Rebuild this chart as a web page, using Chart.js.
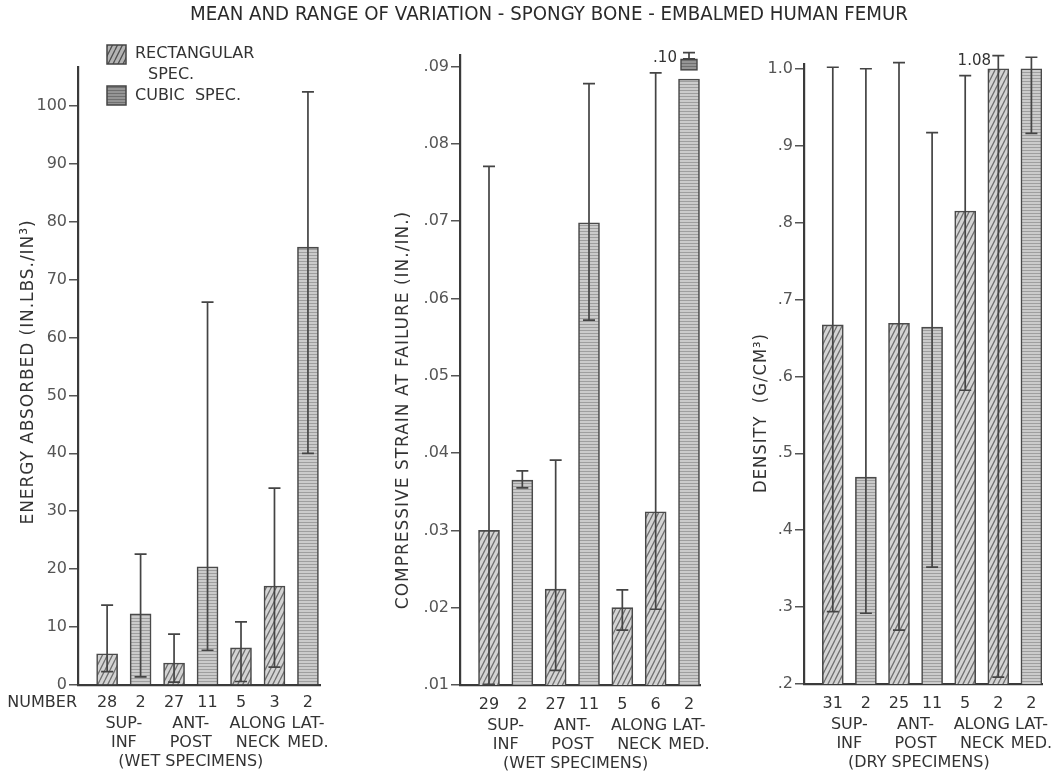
<!DOCTYPE html>
<html>
<head>
<meta charset="utf-8">
<script src="https://cdn.jsdelivr.net/npm/chart.js@4/dist/chart.umd.min.js"></script>
<style>
  html, body { margin: 0; padding: 0; background: #fff; }
  #wrap { position: relative; width: 1059px; height: 772px; }
  #wrap canvas { position: absolute; left: 0; top: 0; }
</style>
</head>
<body>
<div id="wrap">
  <canvas id="energyChart" width="1059" height="772"></canvas>
  <canvas id="strainChart" width="1059" height="772"></canvas>
  <canvas id="densityChart" width="1059" height="772"></canvas>
</div>
<script>
// shared categories
var groupNames = [['SUP-', 'INF'], ['ANT-', 'POST'], ['ALONG', 'NECK'], ['LAT-', 'MED.']];
var groupBars = [[0, 1], [2, 3], [4, 5], [6]];
var specType = ['rect', 'cubic', 'rect', 'cubic', 'rect', 'rect', 'cubic'];

// energy absorbed (in.lbs./in3), wet specimens
var energyCounts = ['28', '2', '27', '11', '5', '3', '2'];
var energyMean = [5.4, 12.3, 3.8, 20.4, 6.4, 17.1, 75.6];
var energyLow = [2.3, 1.4, 0.5, 6.0, 0.6, 3.1, 40.0];
var energyHigh = [13.8, 22.6, 8.8, 66.1, 10.9, 34.0, 102.4];

// compressive strain at failure (in./in.), wet specimens
var strainCounts = ['29', '2', '27', '11', '5', '6', '2'];
var strainMean = [0.0300, 0.0365, 0.0224, 0.0698, 0.0200, 0.0324, 0.0884];
var strainLow = [0.0101, 0.0355, 0.0119, 0.0572, 0.0171, 0.0198, 0.0910];
var strainHigh = [0.0771, 0.0377, 0.0391, 0.0878, 0.0223, 0.0892, 0.0918];
var strainBreak = [null, null, null, null, null, null, [0.0895, 0.0910]];
var strainNotes = [null, null, null, null, null, null, '.10'];

// density (g/cm3), dry specimens
var densityCounts = ['31', '2', '25', '11', '5', '2', '2'];
var densityMean = [0.667, 0.469, 0.669, 0.664, 0.815, 1.0, 1.0];
var densityLow = [0.294, 0.292, 0.270, 0.352, 0.582, 0.209, 0.916];
var densityHigh = [1.002, 1.0, 1.008, 0.917, 0.991, 1.017, 1.015];
var densityNotes = [null, null, null, null, null, '1.08', null];

var FONT = "'DejaVu Sans', 'Liberation Sans', sans-serif";
Chart.defaults.font.family = FONT;

function hatchPattern(bg, line) {
    var c = document.createElement('canvas');
    c.width = 5; c.height = 10;
    var g = c.getContext('2d');
    g.fillStyle = bg;
    g.fillRect(0, 0, 5, 10);
    g.strokeStyle = line;
    g.lineWidth = 1.3;
    g.beginPath();
    g.moveTo(0, 10); g.lineTo(5, 0);
    g.moveTo(-5, 10); g.lineTo(0, 0);
    g.moveTo(5, 10); g.lineTo(10, 0);
    g.stroke();
    return g.createPattern(c, 'repeat');
}

function linePattern(bg, line) {
    var c = document.createElement('canvas');
    c.width = 4; c.height = 3;
    var g = c.getContext('2d');
    g.fillStyle = bg;
    g.fillRect(0, 0, 4, 3);
    g.fillStyle = line;
    g.fillRect(0, 0, 4, 1);
    return g.createPattern(c, 'repeat');
}

var rectFill = hatchPattern('#d4d4d4', '#707070');
var cubicFill = linePattern('#cbcbcb', '#9e9e9e');
var rectSwatch = hatchPattern('#b4b4b4', '#505050');
var cubicSwatch = linePattern('#959595', '#707070');

function fills() {
    return specType.map(t => t === 'rect' ? rectFill : cubicFill);
}

// error bars drawn through the chart's own scales
var errorBars = {
    id: 'errorBars',
    afterDatasetsDraw: function (chart) {
        var o = chart.options.plugins.errorBars;
        var xs = chart.scales.x, ys = chart.scales.y, ctx = chart.ctx;
        ctx.save();
        ctx.strokeStyle = '#444';
        ctx.lineWidth = 1.7;
        o.low.forEach(function (lo, i) {
            var x = xs.getPixelForValue(i);
            var y1 = ys.getPixelForValue(lo), y2 = ys.getPixelForValue(o.high[i]);
            ctx.beginPath();
            ctx.moveTo(x, y1); ctx.lineTo(x, y2);
            ctx.moveTo(x - 6, y2); ctx.lineTo(x + 6, y2);
            ctx.moveTo(x - 6, y1); ctx.lineTo(x + 6, y1);
            ctx.stroke();
        });
        ctx.restore();
    }
};

var panelText = {
    id: 'panelText',
    afterDraw: function (chart) {
        var o = chart.options.plugins.panelText;
        var xs = chart.scales.x, ys = chart.scales.y, ctx = chart.ctx;
        ctx.save();
        ctx.fillStyle = '#333';
        ctx.textBaseline = 'middle';
        ctx.textAlign = 'center';
        ctx.font = '16px ' + FONT;
        o.counts.forEach(function (n, i) {
            ctx.fillText(n, xs.getPixelForValue(i), o.rowY);
        });
        groupNames.forEach(function (lines, g) {
            var bars = groupBars[g];
            var cx = bars.reduce((a, i) => a + xs.getPixelForValue(i), 0) / bars.length;
            lines.forEach(function (t, k) {
                ctx.fillText(t, cx, o.rowY + 21 + k * 19);
            });
        });
        ctx.fillText(o.condition, xs.getPixelForValue(o.conditionAt), o.rowY + 59);

        if (o.notes) {
            ctx.font = '15px ' + FONT;
            o.notes.forEach(function (t, i) {
                if (!t) return;
                ctx.fillText(t, xs.getPixelForValue(i) - 24, ys.getPixelForValue(o.noteAt[i]) + 5);
            });
        }

        ctx.font = o.titleSize + 'px ' + FONT;
        ctx.letterSpacing = '1px';
        ctx.translate(o.titleX, o.titleY);
        ctx.rotate(-Math.PI / 2);
        ctx.fillText(o.yTitle, 0, 0, o.titleW);
        ctx.restore();
    }
};

// title, NUMBER label and legend live on the first panel
var figureText = {
    id: 'figureText',
    afterDraw: function (chart) {
        var ctx = chart.ctx;
        ctx.save();
        ctx.fillStyle = '#2a2a2a';
        ctx.textBaseline = 'middle';
        ctx.textAlign = 'center';
        ctx.font = '19px ' + FONT;
        ctx.fillText('MEAN AND RANGE OF VARIATION - SPONGY BONE - EMBALMED HUMAN FEMUR', 549, 15, 718);
        ctx.fillStyle = '#333';
        ctx.textAlign = 'right';
        ctx.font = '16px ' + FONT;
        ctx.fillText('NUMBER', 77, 703, 73);
        ctx.strokeStyle = '#444';
        ctx.lineWidth = 1.5;
        ctx.fillStyle = rectSwatch;
        ctx.fillRect(107, 45, 19, 19);
        ctx.strokeRect(107, 45, 19, 19);
        ctx.fillStyle = cubicSwatch;
        ctx.fillRect(107, 86, 19, 19);
        ctx.strokeRect(107, 86, 19, 19);
        ctx.fillStyle = '#333';
        ctx.textAlign = 'left';
        ctx.font = '16px ' + FONT;
        ctx.fillText('RECTANGULAR', 135, 54, 128);
        ctx.fillText('SPEC.', 148, 75);
        ctx.fillText('CUBIC  SPEC.', 135, 96, 108);
        ctx.restore();
    }
};

function panel(id, p, extra) {
    return new Chart(document.getElementById(id), {
        type: 'bar',
        data: {
            datasets: [{
                data: p.mean.map((v, i) => ({ x: i, y: v })),
                backgroundColor: fills(),
                borderColor: '#4a4a4a',
                borderWidth: 1.6,
                barThickness: 21,
                grouped: false
            }, {
                data: (p.breakBox || []).map((v, i) => ({ x: i, y: v })).filter(d => d.y),
                backgroundColor: cubicSwatch,
                borderColor: '#444',
                borderWidth: 1.5,
                borderSkipped: false,
                barThickness: 17,
                grouped: false
            }]
        },
        options: {
            responsive: false,
            animation: false,
            layout: {
                padding: { left: p.area[0] - 60, right: 1059 - p.area[1], top: p.area[2], bottom: 772 - p.area[3] }
            },
            scales: {
                x: {
                    type: 'linear',
                    offset: false,
                    min: -0.87,
                    max: p.xMax,
                    ticks: { display: false },
                    grid: { display: false },
                    border: { color: '#3a3a3a', width: 2.2 },
                    afterFit: function (s) { s.height = 0; }
                },
                y: {
                    min: p.yMin,
                    max: p.yMax,
                    ticks: {
                        stepSize: p.step,
                        includeBounds: false,
                        color: '#555',
                        font: { size: 16 },
                        padding: 2,
                        callback: p.fmt
                    },
                    grid: { drawOnChartArea: false, tickLength: 9, color: '#555', lineWidth: 1.5 },
                    border: { color: '#3a3a3a', width: 2.2 },
                    afterFit: function (s) { s.width = 60; }
                }
            },
            plugins: {
                legend: { display: false },
                tooltip: { enabled: false },
                errorBars: { low: p.low, high: p.high },
                panelText: p.text
            }
        },
        plugins: extra ? [errorBars, panelText, extra] : [errorBars, panelText]
    });
}

panel('energyChart', {
    area: [78, 320, 67, 685],
    xMax: 6.36,
    yMin: 0, yMax: 106.7, step: 10,
    fmt: v => String(Math.round(v)),
    mean: energyMean, low: energyLow, high: energyHigh,
    text: {
        counts: energyCounts, rowY: 703,
        condition: '(WET SPECIMENS)', conditionAt: 2.5,
        yTitle: 'ENERGY ABSORBED (IN.LBS./IN³)', titleX: 28, titleY: 372, titleW: 305, titleSize: 18
    }
}, figureText);

panel('strainChart', {
    area: [460, 700, 55, 685],
    xMax: 6.33,
    yMin: 0.01, yMax: 0.0915, step: 0.01,
    fmt: v => v.toFixed(2).replace(/^0/, ''),
    mean: strainMean, low: strainLow, high: strainHigh, breakBox: strainBreak,
    text: {
        counts: strainCounts, rowY: 705,
        condition: '(WET SPECIMENS)', conditionAt: 2.6,
        yTitle: 'COMPRESSIVE STRAIN AT FAILURE (IN./IN.)', titleX: 404, titleY: 410, titleW: 406, titleSize: 17,
        notes: strainNotes, noteAt: strainHigh
    }
});

panel('densityChart', {
    area: [804, 1042, 64, 684],
    xMax: 6.32,
    yMin: 0.2, yMax: 1.0062, step: 0.1,
    fmt: v => v >= 0.99 ? v.toFixed(1) : v.toFixed(1).replace(/^0/, ''),
    mean: densityMean, low: densityLow, high: densityHigh,
    text: {
        counts: densityCounts, rowY: 704,
        condition: '(DRY SPECIMENS)', conditionAt: 2.6,
        yTitle: 'DENSITY  (G/CM³)', titleX: 762, titleY: 413, titleW: 160, titleSize: 17,
        notes: densityNotes, noteAt: densityHigh
    }
});
</script>
</body>
</html>
